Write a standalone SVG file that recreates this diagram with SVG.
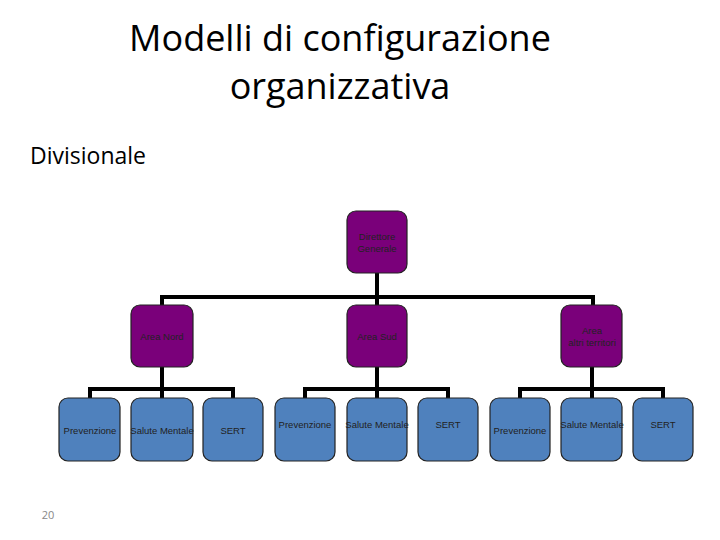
<svg xmlns="http://www.w3.org/2000/svg" width="720" height="540" viewBox="0 0 720 540">
<style>
.t{font-family:"Open Sans","Liberation Sans",sans-serif;fill:#000}
.p{fill:#7a007a;stroke:#222;stroke-width:1.2}
.b{fill:#4f81bd;stroke:#222;stroke-width:1.2}
.l{font-family:"Liberation Sans",Arial,sans-serif;font-size:9.5px;fill:#222;text-anchor:middle}
.c{fill:none;stroke:#000;stroke-width:4}
</style>
<rect width="720" height="540" fill="#fff"/>
<text class="t" x="340" y="51" font-size="36" text-anchor="middle">Modelli di configurazione</text>
<text class="t" x="340" y="99" font-size="36" text-anchor="middle">organizzativa</text>
<text class="t" x="30" y="164" font-size="23">Divisionale</text>
<text class="t" x="48" y="519" font-size="11" fill="#888" text-anchor="middle" style="fill:#888">20</text>
<g id="connectors">
<path class="c" d="M377 273V305M162 305V297H593V305"/>
<path class="c" d="M162 367V398M90 398V389H233V398"/>
<path class="c" d="M377 367V398M305 398V389H448V398"/>
<path class="c" d="M592 367V398M520 398V389H663V398"/>
</g>
<g id="dg"><rect class="p" x="347" y="211" width="60" height="62" rx="9"/><text class="l" x="377" y="240">Direttore</text><text class="l" x="377" y="252">Generale</text></g>
<g id="nord"><rect class="p" x="131" y="305" width="62" height="62" rx="9"/><text class="l" x="162" y="340">Area Nord</text></g>
<g id="sud"><rect class="p" x="347" y="305" width="60" height="62" rx="9"/><text class="l" x="377" y="340">Area Sud</text></g>
<g id="altri"><rect class="p" x="561" y="305" width="61" height="62" rx="9"/><text class="l" x="592" y="334">Area</text><text class="l" x="592" y="346">altri territori</text></g>
<g id="n1"><rect class="b" x="59" y="398" width="61" height="63" rx="9"/><text class="l" x="90" y="434">Prevenzione</text></g>
<g id="n2"><rect class="b" x="131" y="398" width="62" height="63" rx="9"/><text class="l" x="162" y="434">Salute Mentale</text></g>
<g id="n3"><rect class="b" x="203" y="398" width="60" height="63" rx="9"/><text class="l" x="233" y="434">SERT</text></g>
<g id="s1"><rect class="b" x="275" y="398" width="60" height="63" rx="9"/><text class="l" x="305" y="428">Prevenzione</text></g>
<g id="s2"><rect class="b" x="347" y="398" width="60" height="63" rx="9"/><text class="l" x="377" y="428">Salute Mentale</text></g>
<g id="s3"><rect class="b" x="418" y="398" width="60" height="63" rx="9"/><text class="l" x="448" y="428">SERT</text></g>
<g id="a1"><rect class="b" x="490" y="398" width="60" height="63" rx="9"/><text class="l" x="520" y="434">Prevenzione</text></g>
<g id="a2"><rect class="b" x="561" y="398" width="61" height="63" rx="9"/><text class="l" x="592" y="428">Salute Mentale</text></g>
<g id="a3"><rect class="b" x="633" y="398" width="60" height="63" rx="9"/><text class="l" x="663" y="428">SERT</text></g>
</svg>
